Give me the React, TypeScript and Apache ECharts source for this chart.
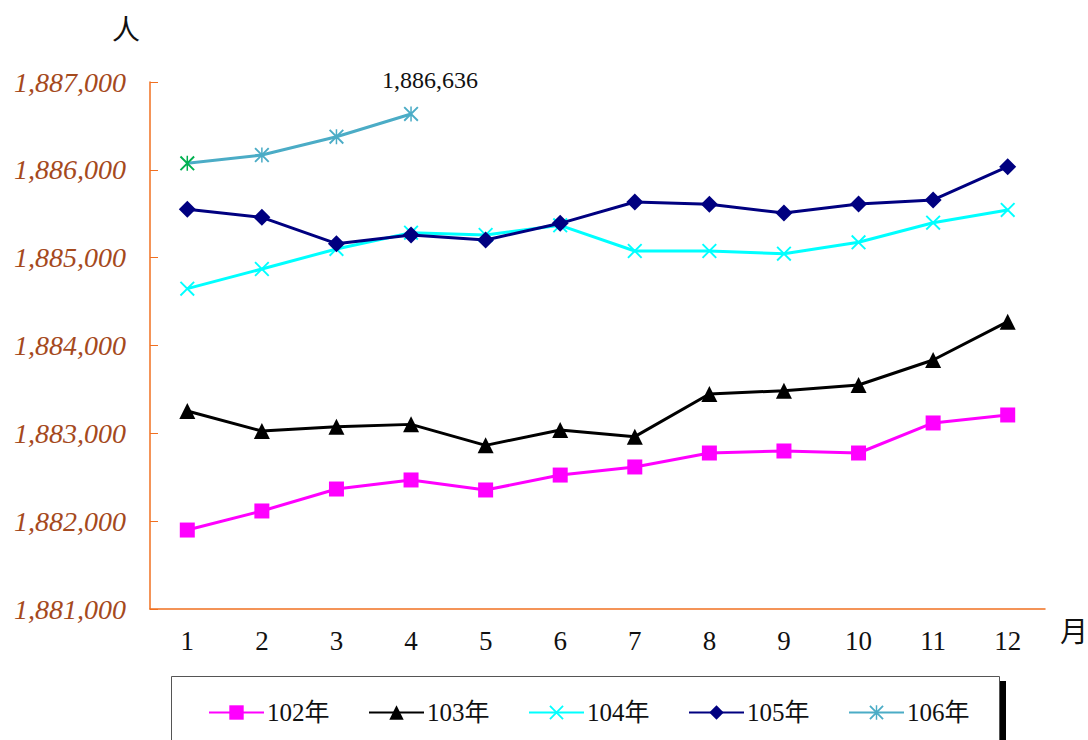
import React, { useEffect, useRef } from "react";
import * as echarts from "echarts";

const months = ["1", "2", "3", "4", "5", "6", "7", "8", "9", "10", "11", "12"];
const y102 = [1881899, 1882116, 1882366, 1882469, 1882355, 1882525, 1882617, 1882776, 1882799, 1882776, 1883118, 1883209];
const y103 = [1883254, 1883026, 1883076, 1883102, 1882863, 1883038, 1882962, 1883448, 1883486, 1883550, 1883835, 1884271];
const y104 = [1884647, 1884871, 1885099, 1885284, 1885258, 1885368, 1885076, 1885076, 1885045, 1885175, 1885398, 1885543];
const y105 = [1885550, 1885459, 1885159, 1885258, 1885201, 1885391, 1885634, 1885607, 1885508, 1885611, 1885657, 1886036];
const y106 = [1886074, 1886169, 1886377, 1886636];
const seriesNames = ["102年", "103年", "104年", "105年", "106年"];
const yMin = 1881000;
const yMax = 1887000;
const yStep = 1000;

const SERIF = '"Liberation Serif", "Noto Sans CJK TC", serif';

const crossPath =
  "path://M0,1.8L1.8,0L20,18.2L18.2,20Z M18.2,0L20,1.8L1.8,20L0,18.2Z";
const starPath =
  "path://M0,1.8L1.8,0L20,18.2L18.2,20Z M18.2,0L20,1.8L1.8,20L0,18.2Z M9,0L11,0L11,20L9,20Z";

function fmt(v: number) {
  return String(v).replace(/\B(?=(\d{3})+(?!\d))/g, ",");
}

export default function App() {
  const ref = useRef<HTMLDivElement>(null);
  useEffect(() => {
    if (!ref.current) return;
    const chart = echarts.init(ref.current, undefined, { renderer: "svg" });
    const axisColor = "#F07021";
    const defs = [
      { name: seriesNames[0], data: y102, color: "#FF00FF", symbol: "rect", size: 15 },
      { name: seriesNames[1], data: y103, color: "#000000", symbol: "triangle", size: 16 },
      { name: seriesNames[2], data: y104, color: "#00FFFF", symbol: crossPath, size: 15 },
      { name: seriesNames[3], data: y105, color: "#000080", symbol: "diamond", size: 17 },
      { name: seriesNames[4], data: y106, color: "#4BACC6", symbol: starPath, size: 15 },
    ];
    const series = defs.map((d, si) => ({
      type: "line",
      name: d.name,
      data: d.data.map((v, i) => {
        if (si === 4 && i === 0) {
          return { value: v, itemStyle: { color: "#00B050" } };
        }
        if (si === 4 && i === d.data.length - 1) {
          return {
            value: v,
            label: {
              show: true,
              position: "top",
              offset: [19, -9],
              formatter: (p: any) => fmt(p.value),
              color: "#111",
              fontFamily: SERIF,
              fontSize: 24,
            },
          };
        }
        return v;
      }),
      symbol: d.symbol,
      symbolSize: d.size,
      showAllSymbol: true,
      lineStyle: { color: d.color, width: 3 },
      itemStyle: { color: d.color },
      z: 2 + si,
    }));
    const legends = seriesNames.map((n, i) => ({
      data: [n],
      left: 208 + 160 * i,
      top: 700,
      padding: 0,
      itemWidth: 55,
      itemHeight: 18,
      itemGap: 0,
      textStyle: { fontFamily: SERIF, fontSize: 25, color: "#111", padding: [0, 0, 0, -2] },
    }));
    chart.setOption({
      animation: false,
      backgroundColor: "#fff",
      textStyle: { fontFamily: SERIF },
      grid: { left: 150, right: 43, top: 82, bottom: 131 },
      legend: legends,
      xAxis: {
        type: "category",
        data: months,
        boundaryGap: true,
        axisLine: { lineStyle: { color: axisColor, width: 1.5 } },
        axisTick: { inside: true, length: 7, lineStyle: { color: axisColor } },
        axisLabel: { margin: 18, color: "#111", fontFamily: SERIF, fontSize: 27 },
        splitLine: { show: false },
      },
      yAxis: {
        type: "value",
        min: yMin,
        max: yMax,
        interval: yStep,
        axisLine: { show: true, lineStyle: { color: axisColor, width: 1.5 } },
        axisTick: { show: true, inside: true, length: 8, lineStyle: { color: axisColor } },
        axisLabel: {
          margin: 24,
          color: "#A5491D",
          fontFamily: SERIF,
          fontStyle: "italic",
          fontSize: 28,
          formatter: (v: number) => fmt(v),
        },
        splitLine: { show: false },
      },
      series,
      graphic: [
        {
          type: "text",
          left: 112,
          top: 14,
          style: { text: "人", font: '28px "Noto Sans CJK TC", serif', fill: "#111" },
        },
        {
          type: "text",
          left: 1060,
          top: 616,
          style: { text: "月", font: '28px "Noto Sans CJK TC", serif', fill: "#111" },
        },
        {
          type: "rect",
          shape: { x: 171.5, y: 676.5, width: 828, height: 80 },
          style: { fill: "none", stroke: "#555", lineWidth: 1 },
          z: -1,
        },
        {
          type: "rect",
          shape: { x: 1000, y: 681, width: 6, height: 70 },
          style: { fill: "#000" },
        },
      ],
    });
    return () => chart.dispose();
  }, []);
  return (
    <div
      ref={ref}
      style={{ position: "fixed", left: 0, top: 0, width: 1088, height: 740 }}
    />
  );
}
